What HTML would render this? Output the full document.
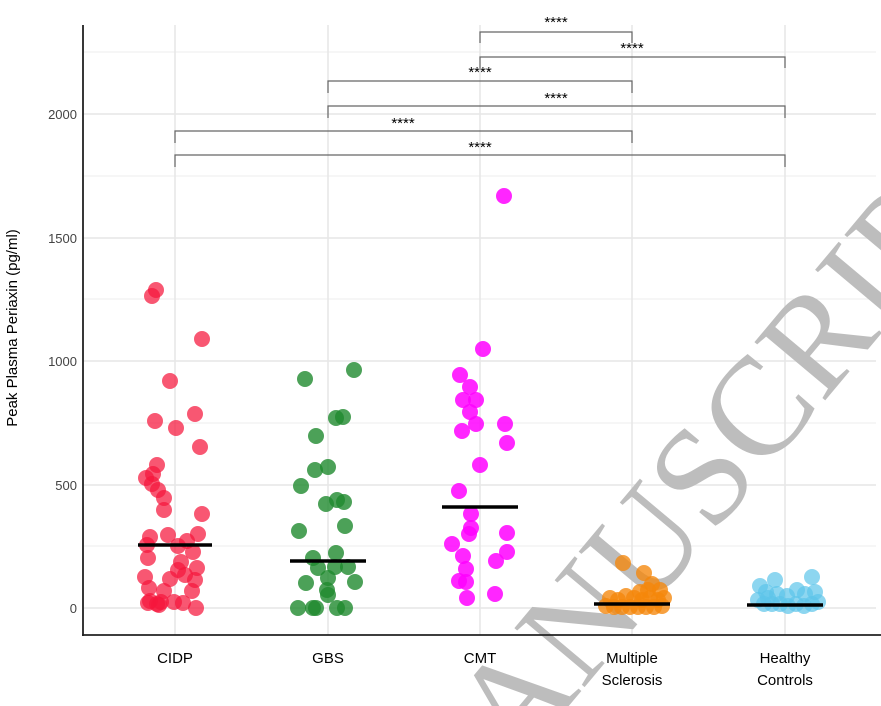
<!DOCTYPE html>
<html><head><meta charset="utf-8"><style>
html,body{margin:0;padding:0;background:#fff;overflow:hidden;}
svg{display:block;font-family:"Liberation Sans",sans-serif;}
</style></head><body>
<svg id="s" width="881" height="706" viewBox="0 0 881 706" xmlns="http://www.w3.org/2000/svg">
<g stroke="#ececec" stroke-width="1">
<line x1="83" x2="876" y1="52" y2="52"/><line x1="83" x2="876" y1="176" y2="176"/><line x1="83" x2="876" y1="299" y2="299"/><line x1="83" x2="876" y1="423" y2="423"/><line x1="83" x2="876" y1="546" y2="546"/>
</g>
<g stroke="#e6e6e6" stroke-width="1.5">
<line x1="83" x2="876" y1="114" y2="114"/><line x1="83" x2="876" y1="238" y2="238"/><line x1="83" x2="876" y1="361" y2="361"/><line x1="83" x2="876" y1="485" y2="485"/><line x1="83" x2="876" y1="608" y2="608"/>
<line x1="175" x2="175" y1="25" y2="635"/><line x1="328" x2="328" y1="25" y2="635"/><line x1="480" x2="480" y1="25" y2="635"/><line x1="632" x2="632" y1="25" y2="635"/><line x1="785" x2="785" y1="25" y2="635"/>
</g>
<text x="0" y="0" font-size="140" fill="#bdbdbd" font-family="Liberation Serif,serif" transform="translate(437,863) rotate(-50)">MANUSCRIPT</text>
<g id="pts"></g>
<g stroke="#000" stroke-width="3.5">
<line x1="138" x2="212" y1="545" y2="545"/><line x1="290" x2="366" y1="561" y2="561"/><line x1="442" x2="518" y1="507" y2="507"/><line x1="594" x2="670" y1="604" y2="604"/><line x1="747" x2="823" y1="605" y2="605"/>
</g>
<g fill="none" stroke="#666" stroke-width="1.2">
<path d="M480 43V32H632V43"/><path d="M480 68V57H785V68"/><path d="M328 93V81H632V93"/><path d="M328 118V106H785V118"/><path d="M175 143V131H632V143"/><path d="M175 167V155H785V167"/>
</g>
<g font-size="15" text-anchor="middle" fill="#000">
<text x="556" y="27">****</text><text x="632" y="53">****</text><text x="480" y="77">****</text><text x="556" y="103">****</text><text x="403" y="128">****</text><text x="480" y="152">****</text>
</g>
<line x1="83" x2="83" y1="25" y2="636" stroke="#222" stroke-width="1.8"/>
<line x1="82" x2="881" y1="635" y2="635" stroke="#222" stroke-width="1.8"/>
<g font-size="13" fill="#444" text-anchor="end">
<text x="77" y="613">0</text><text x="77" y="490">500</text><text x="77" y="366">1000</text><text x="77" y="243">1500</text><text x="77" y="119">2000</text>
</g>
<g font-size="15" fill="#000" text-anchor="middle">
<text x="175" y="663">CIDP</text><text x="328" y="663">GBS</text><text x="480" y="663">CMT</text>
<text x="632" y="663">Multiple</text><text x="632" y="685">Sclerosis</text>
<text x="785" y="663">Healthy</text><text x="785" y="685">Controls</text>
</g>
<text transform="translate(17,328) rotate(-90)" font-size="15" text-anchor="middle" fill="#000">Peak Plasma Periaxin (pg/ml)</text>
</svg>
<script>
var g=document.getElementById('pts');
var data=[
['#f5163b',0.72,[[156,290],[152,296],[202,339],[170,381],[155,421],[195,414],[176,428],[200,447],[157,465],[153,474],[146,478],[152,484],[158,490],[164,498],[164,510],[202,514],[168,535],[150,537],[198,534],[187,541],[147,545],[178,546],[193,552],[148,558],[181,562],[178,570],[185,575],[197,568],[195,580],[145,577],[170,579],[164,591],[149,588],[192,591],[150,601],[157,604],[159,605],[174,602],[183,603],[196,608],[148,603],[161,602]]],
['#1f8a2e',0.8,[[305,379],[354,370],[336,418],[343,417],[316,436],[315,470],[328,467],[301,486],[326,504],[344,502],[337,500],[299,531],[345,526],[313,558],[336,553],[318,568],[335,567],[348,567],[306,583],[328,578],[355,582],[327,590],[298,608],[313,608],[316,608],[337,608],[345,608],[328,595]]],
['#ff00ff',0.85,[[504,196],[483,349],[460,375],[470,387],[463,400],[476,400],[470,412],[476,424],[462,431],[505,424],[507,443],[480,465],[459,491],[471,514],[471,528],[469,534],[452,544],[463,556],[507,533],[507,552],[496,561],[466,569],[459,581],[466,582],[467,598],[495,594]]],
['#f5870a',0.78,[[623,563],[644,573],[648,590],[652,584],[660,590],[610,598],[618,600],[626,596],[634,598],[642,600],[650,598],[658,600],[664,598],[606,606],[614,607],[622,607],[630,607],[638,607],[646,607],[654,607],[662,606],[640,592]]],
['#5cc5ea',0.7,[[812,577],[797,590],[775,580],[760,586],[766,592],[787,596],[805,594],[815,592],[758,600],[764,604],[772,604],[780,604],[788,606],[796,604],[804,606],[812,604],[818,602],[768,598],[777,594]]]
];
var ns='http://www.w3.org/2000/svg';
data.forEach(function(d){d[2].forEach(function(p){var c=document.createElementNS(ns,'circle');c.setAttribute('cx',p[0]);c.setAttribute('cy',p[1]);c.setAttribute('r',8);c.setAttribute('fill',d[0]);c.setAttribute('fill-opacity',d[1]);g.appendChild(c);});});
</script>
</body></html>
